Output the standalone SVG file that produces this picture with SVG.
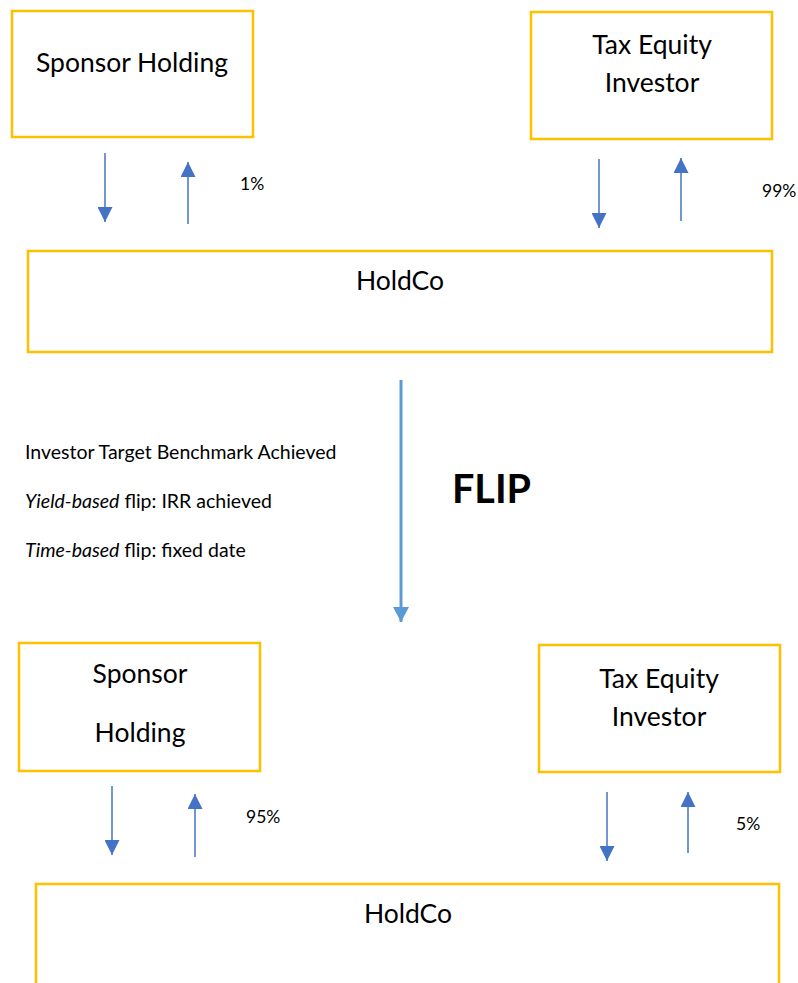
<svg xmlns="http://www.w3.org/2000/svg" width="798" height="983" viewBox="0 0 798 983">
<defs>
<style>
.box{fill:#fff;stroke:#FFC000;stroke-width:2.5}
.t{font-family:Lato,"Open Sans","Liberation Sans",sans-serif;fill:#000}
.big{font-size:26.5px;text-anchor:middle}
.pct{font-size:17.5px}
.note{font-size:19.5px}
.flow{stroke:#4472C4;stroke-width:1.5;fill:none}
.flip{stroke:#5B9BD5;stroke-width:3;fill:none}
</style>
<marker id="ah" viewBox="0 0 16 15" refX="15" refY="7.5" markerWidth="16" markerHeight="15" markerUnits="userSpaceOnUse" orient="auto">
<path d="M0,0 L15,7.5 L0,15 z" fill="#4472C4"/>
</marker>
<marker id="ahf" viewBox="0 0 16 16" refX="15" refY="8" markerWidth="16" markerHeight="16" markerUnits="userSpaceOnUse" orient="auto">
<path d="M0,0 L15,8 L0,16 z" fill="#5B9BD5"/>
</marker>
</defs>
<rect width="798" height="983" fill="#fff"/>

<g id="sponsor-top">
<rect class="box" x="12" y="11" width="241" height="126"/>
<text class="t big" x="132" y="72">Sponsor Holding</text>
</g>
<g id="tax-top">
<rect class="box" x="531" y="12" width="241" height="127"/>
<text class="t big" x="652" y="54">Tax Equity</text>
<text class="t big" x="652" y="92">Investor</text>
</g>
<g id="holdco-top">
<rect class="box" x="28" y="251" width="744" height="101"/>
<text class="t big" x="400" y="290">HoldCo</text>
</g>
<g id="notes">
<text class="t note" x="25" y="459">Investor Target Benchmark Achieved</text>
<text class="t note" x="25" y="508"><tspan font-style="italic">Yield-based</tspan> flip: IRR achieved</text>
<text class="t note" x="25" y="557"><tspan font-style="italic">Time-based</tspan> flip: fixed date</text>
<text class="t" x="452" y="503" font-size="39.5" font-weight="bold">FLIP</text>
</g>
<g id="sponsor-bottom">
<rect class="box" x="19" y="643" width="241" height="128"/>
<text class="t big" x="140" y="683">Sponsor</text>
<text class="t big" x="140" y="742">Holding</text>
</g>
<g id="tax-bottom">
<rect class="box" x="539" y="645" width="241" height="127"/>
<text class="t big" x="659" y="688">Tax Equity</text>
<text class="t big" x="659" y="726">Investor</text>
</g>
<g id="holdco-bottom">
<rect class="box" x="36" y="884" width="743" height="120"/>
<text class="t big" x="408" y="923">HoldCo</text>
</g>

<g id="connectors">
<line class="flow" x1="105" y1="153" x2="105" y2="222" marker-end="url(#ah)"/>
<line class="flow" x1="188" y1="224" x2="188" y2="162" marker-end="url(#ah)"/>
<line class="flow" x1="599" y1="159" x2="599" y2="228" marker-end="url(#ah)"/>
<line class="flow" x1="681" y1="221" x2="681" y2="158" marker-end="url(#ah)"/>
<line class="flip" x1="401" y1="380" x2="401" y2="622" marker-end="url(#ahf)"/>
<line class="flow" x1="112" y1="786" x2="112" y2="855" marker-end="url(#ah)"/>
<line class="flow" x1="195" y1="857" x2="195" y2="794" marker-end="url(#ah)"/>
<line class="flow" x1="607" y1="792" x2="607" y2="861" marker-end="url(#ah)"/>
<line class="flow" x1="688" y1="853" x2="688" y2="792" marker-end="url(#ah)"/>
</g>
<g id="labels">
<text class="t pct" x="240" y="190">1%</text>
<text class="t pct" x="762" y="197">99%</text>
<text class="t pct" x="246" y="823">95%</text>
<text class="t pct" x="736" y="830">5%</text>
</g>
</svg>
